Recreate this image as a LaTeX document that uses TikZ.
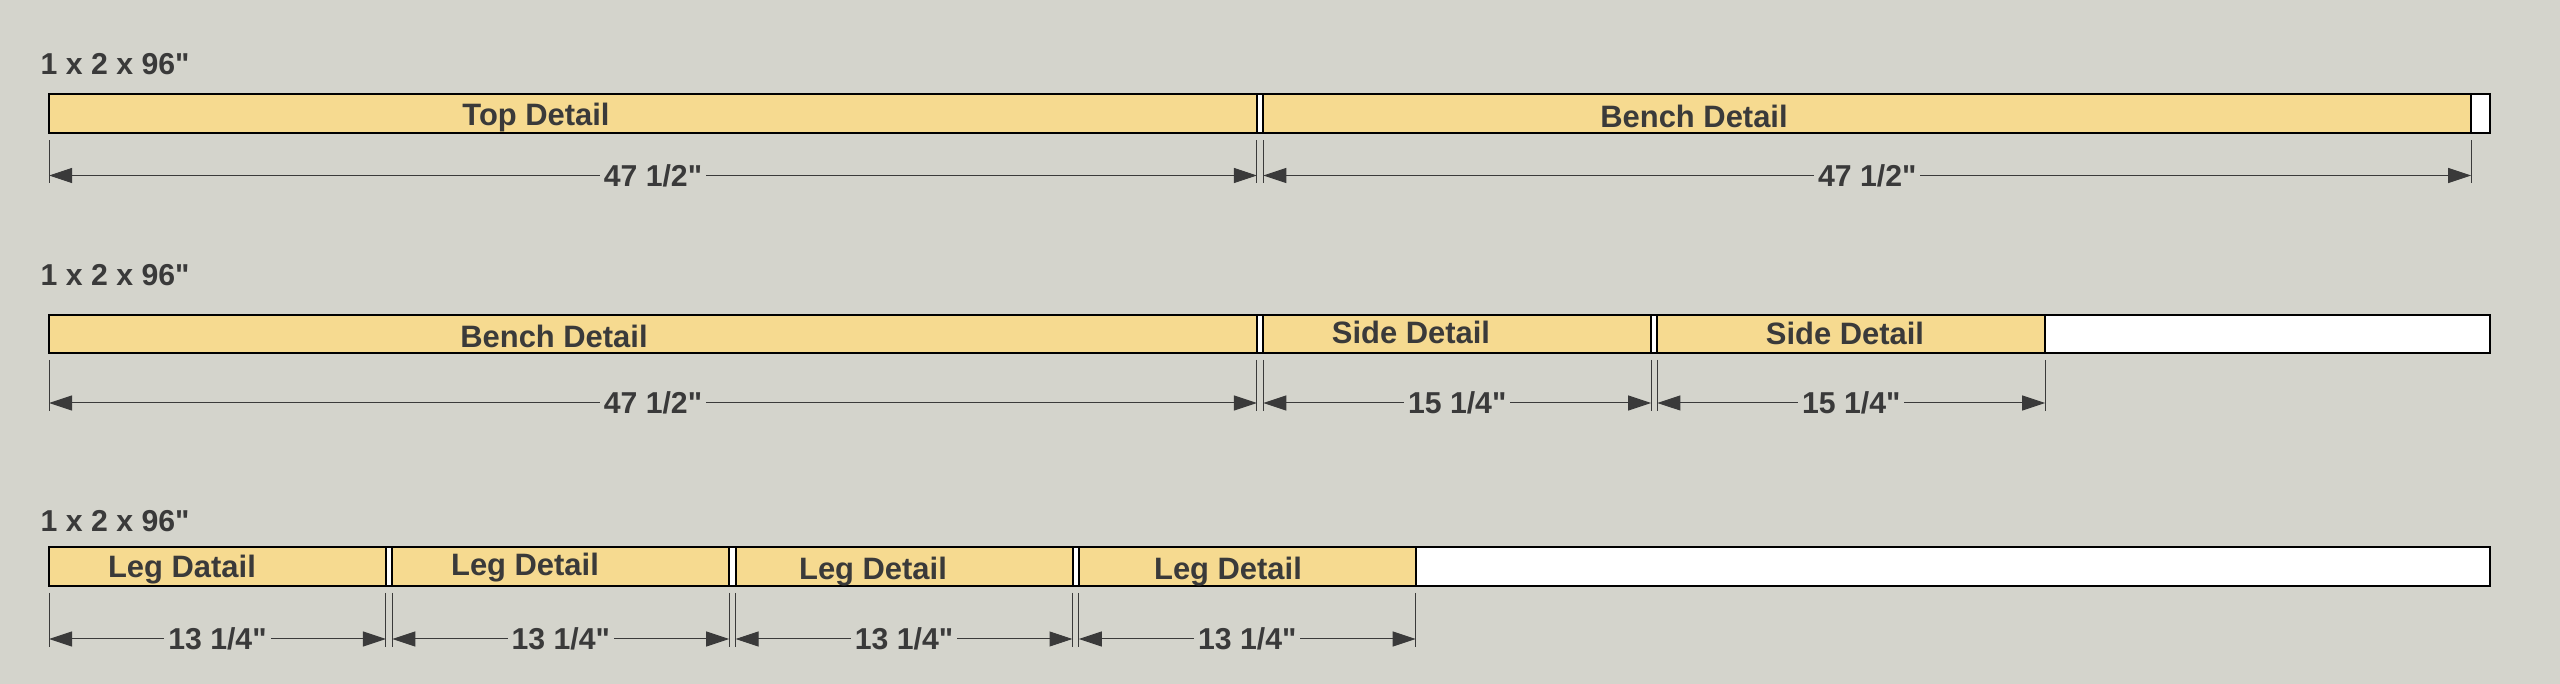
\documentclass[tikz,border=0pt]{standalone}
\usepackage{fontspec}
\setmainfont{Liberation Sans}[Ligatures=TeXOff]
\usepackage{tikz}
\usetikzlibrary{arrows.meta}
\definecolor{bgcolor}{RGB}{212,212,204}
\definecolor{woodfill}{RGB}{246,218,144}
\definecolor{inkgray}{RGB}{58,58,58}
\tikzset{
  stock/.style={draw=black, line width=0.2mm, fill=white},
  cut/.style={stock, fill=woodfill},
  ext/.style={draw=inkgray, line width=0.1mm},
  dim/.style={ext, {Triangle[length=2.3mm,width=1.5mm]}-{Triangle[length=2.3mm,width=1.5mm]}},
}
\begin{document}
\begin{tikzpicture}[
        x=0.1mm, y=-0.1mm,
        rowlabel/.style={font=\fontsize{8.6}{10}\selectfont\bfseries, text=inkgray, inner sep=0pt, anchor=base west},
        cutlabel/.style={font=\fontsize{8.8}{10}\selectfont\bfseries, text=inkgray, inner sep=0pt, anchor=base},
        dimlabel/.style={font=\fontsize{8.6}{10}\selectfont\bfseries, text=inkgray, fill=bgcolor, inner xsep=0.4mm, inner ysep=0.3mm}
    ]

    % Background
    \fill[bgcolor] (0,0) rectangle (2560,684);
    \useasboundingbox (0,0) rectangle (2560,684);

    % Board 1
    \node[rowlabel] (row1) at (40,74.5) {1 x 2 x 96"};
    \draw[stock] (49,94) rectangle (2490,133);
    \draw[cut] (49,94) rectangle (1256.9,133);
    \draw[cut] (1263.3,94) rectangle (2471.2,133);
    \node[cutlabel] (top1) at (536,125.5) {Top Detail};
    \node[cutlabel] (bench1) at (1694,127.5) {Bench Detail};

    \coordinate (r1a) at (49,175.5);
    \coordinate (r1b) at (1256.9,175.5);
    \coordinate (r1c) at (1263.3,175.5);
    \coordinate (r1d) at (2471.2,175.5);
    \draw[ext] ([yshift=3.5mm]r1a) -- ([yshift=-0.8mm]r1a);
    \draw[ext] ([yshift=3.5mm]r1b) -- ([yshift=-0.8mm]r1b);
    \draw[ext] ([yshift=3.5mm]r1c) -- ([yshift=-0.8mm]r1c);
    \draw[ext] ([yshift=3.5mm]r1d) -- ([yshift=-0.8mm]r1d);
    \draw[dim] (r1a) -- (r1b) node[dimlabel, midway] (len1a) {47 1/2"};
    \draw[dim] (r1c) -- (r1d) node[dimlabel, midway] (len1b) {47 1/2"};

    % Board 2
    \node[rowlabel] (row2) at (40,286) {1 x 2 x 96"};
    \draw[stock] (49,315) rectangle (2490,353);
    \draw[cut] (49,315) rectangle (1256.9,353);
    \draw[cut] (1263.3,315) rectangle (1651.1,353);
    \draw[cut] (1657.4,315) rectangle (2045.2,353);
    \node[cutlabel] (bench2) at (554,347.5) {Bench Detail};
    \node[cutlabel] (side1) at (1411,344) {Side Detail};
    \node[cutlabel] (side2) at (1845,344.5) {Side Detail};

    \coordinate (r2a) at (49,403);
    \coordinate (r2b) at (1256.9,403);
    \coordinate (r2c) at (1263.3,403);
    \coordinate (r2d) at (1651.1,403);
    \coordinate (r2e) at (1657.4,403);
    \coordinate (r2f) at (2045.2,403);
    \draw[ext] ([yshift=4.3mm]r2a) -- ([yshift=-0.8mm]r2a);
    \draw[ext] ([yshift=4.3mm]r2b) -- ([yshift=-0.8mm]r2b);
    \draw[ext] ([yshift=4.3mm]r2c) -- ([yshift=-0.8mm]r2c);
    \draw[ext] ([yshift=4.3mm]r2d) -- ([yshift=-0.8mm]r2d);
    \draw[ext] ([yshift=4.3mm]r2e) -- ([yshift=-0.8mm]r2e);
    \draw[ext] ([yshift=4.3mm]r2f) -- ([yshift=-0.8mm]r2f);
    \draw[dim] (r2a) -- (r2b) node[dimlabel, midway] (len2a) {47 1/2"};
    \draw[dim] (r2c) -- (r2d) node[dimlabel, midway] (len2b) {15 1/4"};
    \draw[dim] (r2e) -- (r2f) node[dimlabel, midway] (len2c) {15 1/4"};

    % Board 3
    \node[rowlabel] (row3) at (40,531.5) {1 x 2 x 96"};
    \draw[stock] (49,547) rectangle (2490,586);
    \draw[cut] (49,547) rectangle (385.9,586);
    \draw[cut] (392.3,547) rectangle (729.2,586);
    \draw[cut] (735.6,547) rectangle (1072.5,586);
    \draw[cut] (1078.8,547) rectangle (1415.7,586);
    \node[cutlabel] (leg1) at (182,577.5) {Leg Datail};
    \node[cutlabel] (leg2) at (525,575.5) {Leg Detail};
    \node[cutlabel] (leg3) at (873,579.5) {Leg Detail};
    \node[cutlabel] (leg4) at (1228,579.5) {Leg Detail};

    \coordinate (r3a) at (49,639);
    \coordinate (r3b) at (385.9,639);
    \coordinate (r3c) at (392.3,639);
    \coordinate (r3d) at (729.2,639);
    \coordinate (r3e) at (735.6,639);
    \coordinate (r3f) at (1072.5,639);
    \coordinate (r3g) at (1078.8,639);
    \coordinate (r3h) at (1415.7,639);
    \draw[ext] ([yshift=4.6mm]r3a) -- ([yshift=-0.8mm]r3a);
    \draw[ext] ([yshift=4.6mm]r3b) -- ([yshift=-0.8mm]r3b);
    \draw[ext] ([yshift=4.6mm]r3c) -- ([yshift=-0.8mm]r3c);
    \draw[ext] ([yshift=4.6mm]r3d) -- ([yshift=-0.8mm]r3d);
    \draw[ext] ([yshift=4.6mm]r3e) -- ([yshift=-0.8mm]r3e);
    \draw[ext] ([yshift=4.6mm]r3f) -- ([yshift=-0.8mm]r3f);
    \draw[ext] ([yshift=4.6mm]r3g) -- ([yshift=-0.8mm]r3g);
    \draw[ext] ([yshift=4.6mm]r3h) -- ([yshift=-0.8mm]r3h);
    \draw[dim] (r3a) -- (r3b) node[dimlabel, midway] (len3a) {13 1/4"};
    \draw[dim] (r3c) -- (r3d) node[dimlabel, midway] (len3b) {13 1/4"};
    \draw[dim] (r3e) -- (r3f) node[dimlabel, midway] (len3c) {13 1/4"};
    \draw[dim] (r3g) -- (r3h) node[dimlabel, midway] (len3d) {13 1/4"};

\end{tikzpicture}
\end{document}
